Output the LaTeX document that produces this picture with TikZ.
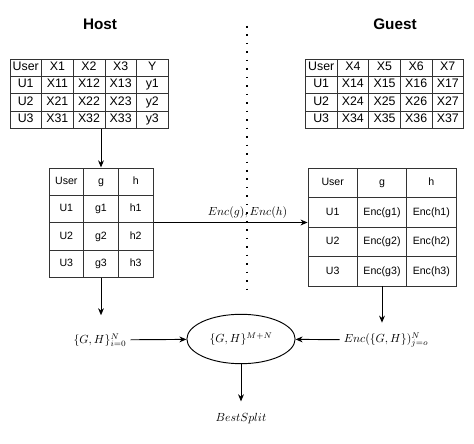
\documentclass[tikz,border=0pt]{standalone}
\usepackage{fontspec}
\newfontfamily\tabfont{Liberation Sans}
\usetikzlibrary{matrix,shapes.geometric,arrows.meta}
\tikzset{
  tabgrid/.style={matrix of nodes,inner sep=0pt,column sep=-\pgflinewidth,row sep=-\pgflinewidth},
  datatab/.style={tabgrid,nodes={draw=black!80,minimum width=26.9pt,minimum height=14.7pt,inner sep=0pt,text height=1.6ex,text depth=0.45ex,anchor=center,font=\tabfont\fontsize{10.5}{12}\selectfont}},
  gradtab/.style={tabgrid,nodes={draw=black!80,minimum width=29.5pt,minimum height=23.2pt,inner sep=0pt,text height=1.6ex,text depth=0.45ex,anchor=center,font=\tabfont\fontsize{9}{11}\selectfont}},
  enctab/.style={tabgrid,nodes={draw=black!80,minimum width=41.9pt,minimum height=25pt,inner sep=0pt,text height=1.6ex,text depth=0.45ex,anchor=center,font=\tabfont\fontsize{9}{11}\selectfont}},
  party/.style={font=\tabfont\bfseries\fontsize{13}{15}\selectfont},
  flow/.style={-{Stealth[length=6pt,width=5pt]},thick},
  divider/.style={line width=1.3pt,dash pattern=on 1.3pt off 5.9pt}
}
\begin{document}
\begin{tikzpicture}[x=0.85pt,y=-0.85pt]
\useasboundingbox (0,0) rectangle (474,444);
\node[party] (host) at (100,24) {Host};
\node[party] (guest) at (395,24) {Guest};
\coordinate (dtop) at (247,26);
\coordinate (dbot) at (247,296);
\draw[divider] (dtop) -- (dbot);

\matrix[datatab] (hostdata) at (89,93.5) {
User & X1 & X2 & X3 & Y \\
U1 & X11 & X12 & X13 & y1 \\
U2 & X21 & X22 & X23 & y2 \\
U3 & X31 & X32 & X33 & y3 \\
};
\matrix[datatab] (guestdata) at (384.5,93.5) {
User & X4 & X5 & X6 & X7 \\
U1 & X14 & X15 & X16 & X17 \\
U2 & X24 & X25 & X26 & X27 \\
U3 & X34 & X35 & X36 & X37 \\
};
\matrix[gradtab] (hostgh) at (101,222.5) {
User & g & h \\
U1 & g1 & h1 \\
U2 & g2 & h2 \\
U3 & g3 & h3 \\
};
\matrix[enctab] (guestgh) at (382,227) {
User & g & h \\
U1 & Enc(g1) & Enc(h1) \\
U2 & Enc(g2) & Enc(h2) \\
U3 & Enc(g3) & Enc(h3) \\
};

\node (hostsum) at (100,340) {$\{G,H\}_{i=0}^{N}$};
\node[ellipse,draw,thick,minimum width=92pt,minimum height=42pt,inner sep=0pt] (allsum) at (241,339) {$\{G,H\}^{M+N}$};
\node (guestsum) at (386,340) {$Enc(\{G,H\})_{j=o}^{N}$};
\node (split) at (241,419) {$BestSplit$};

\draw[flow] (hostgh.north |- hostdata.south) -- (hostgh.north);
\draw[flow] (hostgh.east) -- (hostgh.east -| guestgh.west) node[above,pos=0.61] {$Enc(g), Enc(h)$};
\draw[flow,shorten >=12pt] (hostgh.south) -- (hostgh.south |- hostsum.north);
\draw[flow,shorten >=5pt] (guestgh.south) -- (guestgh.south |- guestsum.north);
\draw[flow] (hostsum) -- (allsum);
\draw[flow] (guestsum) -- (allsum);
\draw[flow,shorten >=7pt] (allsum) -- (split);
\end{tikzpicture}
\end{document}
